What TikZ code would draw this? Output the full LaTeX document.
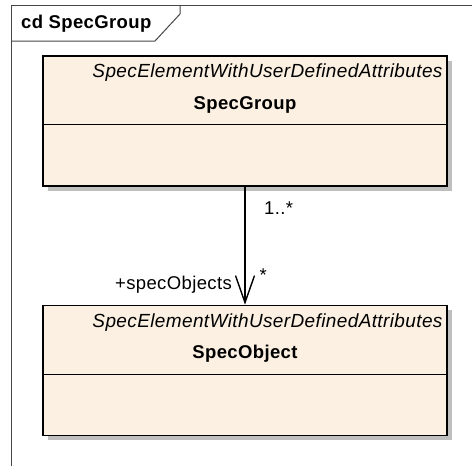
\documentclass[tikz,border=0pt]{standalone}
\usepackage{fontspec}
\setmainfont[LetterSpace=2]{Liberation Sans}
\usepackage{tikz}
\usetikzlibrary{arrows.meta,positioning,shadows}
\definecolor{classfill}{RGB}{251,240,226}
\definecolor{framegray}{RGB}{70,70,70}

\tikzset{
    umlclass/.style={draw,line width=1.4pt,fill=classfill,minimum width=404pt,minimum height=130pt,
        inner sep=0pt,drop shadow={shadow xshift=5pt,shadow yshift=-5pt,fill=black!25,opacity=1}},
    stereo/.style={font=\fontsize{19}{22}\selectfont\itshape,inner sep=0pt,anchor=base east},
    classname/.style={font=\fontsize{18.5}{22}\selectfont\bfseries,inner sep=0pt,anchor=base},
    rolelabel/.style={font=\fontsize{18.5}{22}\selectfont,inner sep=0pt},
    assoc/.style={line width=1.4pt,-{Straight Barb[length=27pt,width=19pt,line width=1.4pt]}},
    framedraw/.style={draw=framegray,line width=1pt}
}

\begin{document}
\begin{tikzpicture}[x=1pt,y=-1pt]
    \useasboundingbox (0,0) rectangle (472,466);
    \fill[white] (0,0) rectangle (472,466);

    \draw[framedraw] (11,466) -- (11,5) -- (472,5);
    \draw[framedraw] (180,5) -- (180,14) -- (155,41) -- (11,41);
    \node[classname,anchor=base west] (title) at (21,28) {cd SpecGroup};

    \node[umlclass] (group) at (245,121) {};
    \node[umlclass,below=118pt of group] (object) {};

    \draw[line width=1.4pt] ([yshift=-69pt]group.north west) -- ([yshift=-69pt]group.north east);
    \draw[line width=1.4pt] ([yshift=-70pt]object.north west) -- ([yshift=-70pt]object.north east);

    \node[stereo] (groupstereo) at ([xshift=-5pt,yshift=-22pt]group.north east) {SpecElementWithUserDefinedAttributes};
    \node[classname] (groupname) at ([yshift=-54pt]group.north) {SpecGroup};
    \node[stereo] (objectstereo) at ([xshift=-5pt,yshift=-23pt]object.north east) {SpecElementWithUserDefinedAttributes};
    \node[classname] (objectname) at ([yshift=-54pt]object.north) {SpecObject};

    \draw[assoc] (group.south) -- (group.south |- object.north);

    \node[rolelabel,anchor=base west] (srcmult) at ([xshift=19pt,yshift=-28pt]group.south) {1..*};
    \node[rolelabel,anchor=base west] (dstmult) at ([xshift=14.5pt,yshift=23pt]object.north) {*};
    \node[rolelabel,anchor=base east] (dstrole) at ([xshift=-13pt,yshift=15pt]object.north) {+specObjects};
\end{tikzpicture}
\end{document}
